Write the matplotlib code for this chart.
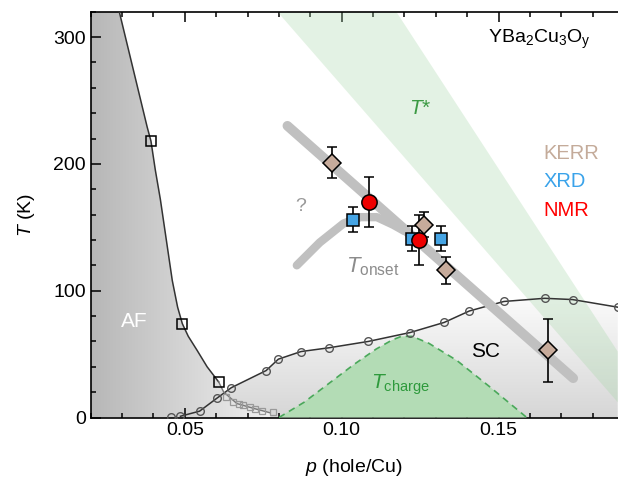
import numpy as np
import matplotlib
matplotlib.use("Agg")
from matplotlib import pyplot as plt
from matplotlib.colors import LinearSegmentedColormap
from matplotlib.patches import Polygon
from matplotlib.ticker import MultipleLocator

plt.rcParams["font.family"] = ["Liberation Sans", "DejaVu Sans"]
plt.rcParams["mathtext.fontset"] = "custom"
plt.rcParams["mathtext.rm"] = "Liberation Sans"
plt.rcParams["mathtext.it"] = "Liberation Sans:italic"

# antiferromagnetic boundary (guide line) and its data points
af_curve_p = [0.0291, 0.0336, 0.0380, 0.0392, 0.0406, 0.0422, 0.0441, 0.0460,
              0.0477, 0.0492, 0.0511, 0.0539, 0.0571, 0.0608, 0.0624, 0.0666,
              0.0719, 0.0772]
af_curve_t = [320, 274, 229, 218, 195, 172, 140, 108, 87, 74, 64, 53, 40, 28,
              20, 11, 7.2, 3.7]
af_p = [0.0392, 0.0492, 0.0608]
af_t = [218, 74, 28]
af_faint_p = [0.0630, 0.0655, 0.0672, 0.0687, 0.0709, 0.0725, 0.0746, 0.0781]
af_faint_t = [16, 12, 10.5, 10, 8.5, 7, 5.5, 4]

# superconducting dome
sc_p = [0.0456, 0.0486, 0.0547, 0.0601, 0.0648, 0.0759, 0.0798, 0.0870,
        0.0960, 0.1085, 0.1218, 0.1327, 0.1407, 0.1517, 0.1647, 0.1736, 0.1880]
sc_t = [0.5, 1, 5, 15, 23.5, 37, 46, 52, 55, 60, 67, 75, 84, 91.5, 94, 93, 87]

# charge order dome
chg_p = [0.080, 0.088, 0.096, 0.104, 0.111, 0.116, 0.119, 0.1225, 0.1278,
         0.1367, 0.1473, 0.159]
chg_t = [0, 12, 27, 42, 54, 61, 64, 64, 58.5, 45, 24, 0]

# T* band edges
tstar_lo_p = [0.0795, 0.188]
tstar_lo_t = [320, 12]
tstar_hi_p = [0.1174, 0.1880]
tstar_hi_t = [320, 52]

# onset lines
onset_p = [0.0827, 0.1738]
onset_t = [230, 31]
onset_branch_p = [0.0857, 0.0930, 0.1006, 0.1060, 0.1112, 0.1164, 0.1200]
onset_branch_t = [120, 138, 153, 158, 158, 152, 147]

# measurements
kerr_p = [0.0969, 0.1261, 0.1331, 0.1657]
kerr_t = [201, 152, 116, 53]
kerr_err = [12, 10, 10.5, 25]
xrd_p = [0.1037, 0.1224, 0.1316]
xrd_t = [156, 141, 141]
xrd_err = [10, 10, 10]
nmr_p = [0.1088, 0.1248]
nmr_t = [170, 140]
nmr_err = [20, 20]

xmin, xmax, ymin, ymax = 0.02, 0.188, 0, 320

fig = plt.figure(figsize=(6.18, 4.83), dpi=100)
ax = fig.add_axes([0.1468, 0.1356, 0.8528, 0.8402])

# grey SC region with vertical gradient
sc_poly = Polygon(list(zip(sc_p, sc_t)) + [(xmax, 0), (sc_p[0], 0)],
                  closed=True, facecolor="none", edgecolor="none",
                  transform=ax.transData)
ax.add_patch(sc_poly)
sc_cmap = LinearSegmentedColormap.from_list("sc", ["#d6d6d6", "#fbfbfb"])
im = ax.imshow(np.linspace(0, 1, 256).reshape(-1, 1), origin="lower",
               extent=[xmin, xmax, 0, 95], aspect="auto", cmap=sc_cmap, zorder=1)
im.set_clip_path(sc_poly)

# grey AF region with horizontal gradient
af_poly = Polygon([(xmin, 0), (xmin, ymax)] + list(zip(af_curve_p, af_curve_t))
                  + [(af_curve_p[-1], 0)],
                  closed=True, facecolor="none", edgecolor="none",
                  transform=ax.transData)
ax.add_patch(af_poly)
af_cmap = LinearSegmentedColormap.from_list("af", ["#b7b7b7", "#f3f3f3"])
im2 = ax.imshow(np.linspace(0, 1, 256).reshape(1, -1), origin="lower",
                extent=[xmin, 0.08, ymin, ymax], aspect="auto", cmap=af_cmap,
                zorder=1.1)
im2.set_clip_path(af_poly)

# T* band
band = list(zip(tstar_lo_p, tstar_lo_t)) + list(zip(tstar_hi_p, tstar_hi_t))[::-1]
ax.add_patch(Polygon(band, closed=True, facecolor="#a5d6a7", alpha=0.3,
                     edgecolor="none", zorder=2))

# charge order dome
ax.fill(chg_p, chg_t, color="#b3dcb5", lw=0, zorder=3)
ax.plot(chg_p, chg_t, color="#4aa85a", ls=(0, (4, 3)), lw=1.2, zorder=3.1)

# SC dome
ax.plot(sc_p[1:], sc_t[1:], color="#333333", lw=1.1, zorder=4)
ax.plot(sc_p, sc_t, ls="none", marker="o", ms=5.5, mfc="none", mec="#555555",
        mew=1.0, zorder=4.1)

# AF line
ax.plot(af_curve_p[:14], af_curve_t[:14], color="#333333", lw=1.1, zorder=4)
ax.plot(af_curve_p[13:], af_curve_t[13:], color="#777777", lw=1.0, zorder=4)
ax.plot(af_p, af_t, ls="none", marker="s", ms=6.5, mfc="none", mec="black",
        mew=1.1, zorder=4.2)
ax.plot(af_faint_p, af_faint_t, ls="none", marker="s", ms=5, mfc="none",
        mec="#999999", mew=0.9, zorder=4.2)

# onset lines
ax.plot(onset_p, onset_t, color="#c0c0c0", lw=7, solid_capstyle="round", zorder=5)
ax.plot(onset_branch_p, onset_branch_t, color="#c0c0c0", lw=6,
        solid_capstyle="round", zorder=5)

# measurements
ekw = dict(ecolor="black", elinewidth=1.2, capsize=3.5, capthick=1.2, ls="none",
           mec="black", mew=1.1, zorder=6)
ax.errorbar(kerr_p, kerr_t, yerr=kerr_err, marker="D", ms=9.5, mfc="#c7ab9b", **ekw)
ax.errorbar(xrd_p, xrd_t, yerr=xrd_err, marker="s", ms=9, mfc="#45a4e4", **ekw)
ax.errorbar(nmr_p, nmr_t, yerr=nmr_err, marker="o", ms=11, mfc="#ee0000", **ekw)

# labels
ax.text(0.1629, 298, r"YBa$_2$Cu$_3$O$_\mathrm{y}$", fontsize=14, ha="center",
        va="center")
ax.text(0.1642, 208, "KERR", fontsize=14.5, color="#c4ab9a", ha="left", va="center")
ax.text(0.1642, 186, "XRD", fontsize=14.5, color="#3aa3ea", ha="left", va="center")
ax.text(0.1642, 163, "NMR", fontsize=14.5, color="#ff0000", ha="left", va="center")
ax.text(0.1250, 244, r"$T$*", fontsize=15, color="#3c9a44", ha="center", va="center")
ax.text(0.0868, 166, "?", fontsize=14, color="#999999", ha="center", va="center")
ax.text(0.1098, 119, r"$T_{\mathrm{onset}}$", fontsize=16, color="#8c8c8c",
        ha="center", va="center")
ax.text(0.0340, 76, "AF", fontsize=15, color="white", ha="center", va="center")
ax.text(0.1457, 52, "SC", fontsize=15, color="black", ha="center", va="center")
ax.text(0.1186, 26, r"$T_{\mathrm{charge}}$", fontsize=15, color="#2e9a3c",
        ha="center", va="center")

ax.set_xlim(xmin, xmax)
ax.set_ylim(ymin, ymax)
ax.xaxis.set_major_locator(MultipleLocator(0.05))
ax.xaxis.set_minor_locator(MultipleLocator(0.01))
ax.yaxis.set_major_locator(MultipleLocator(100))
ax.yaxis.set_minor_locator(MultipleLocator(20))
ax.set_xticks([0.05, 0.10, 0.15])
ax.set_xticklabels(["0.05", "0.10", "0.15"])
ax.tick_params(which="both", direction="in", top=True, right=False, labelsize=14,
               width=1.1)
ax.tick_params(which="major", length=7)
ax.tick_params(which="minor", length=3.5)
for side in ["left", "bottom", "top"]:
    ax.spines[side].set_linewidth(1.2)
ax.spines["right"].set_visible(False)

ax.set_xlabel(r"$p$ (hole/Cu)", fontsize=14, labelpad=13)
ax.set_ylabel(r"$T$ (K)", fontsize=14, labelpad=12)

fig.savefig("out.png", dpi=100)
